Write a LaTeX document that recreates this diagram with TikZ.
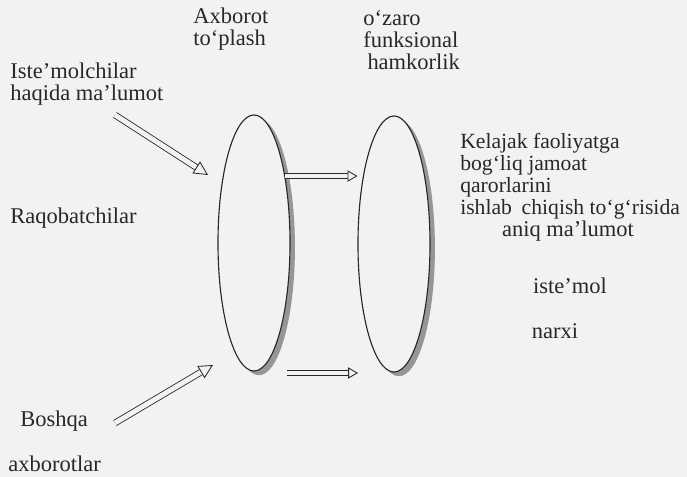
\documentclass[tikz,border=0pt]{standalone}
\usepackage{fontspec}
\setmainfont{Liberation Serif}
\usetikzlibrary{arrows.meta,shapes.geometric,shadows}
\definecolor{paper}{RGB}{242,242,242}
\definecolor{ink}{RGB}{40,40,40}
\definecolor{rim}{RGB}{150,150,150}
\begin{document}
\begin{tikzpicture}[
  x=0.025cm, y=-0.025cm,
  txt/.style={font=\fontsize{16}{15.6}\selectfont, text=ink, align=left, inner sep=0pt},
  lens/.style={ellipse, draw=ink, line width=0.8pt, fill=paper, minimum width=1.8cm, minimum height=6.4cm,
    drop shadow={shadow xshift=3.5pt, shadow yshift=-3pt, fill=rim, opacity=1}},
  arr/.style={draw=ink, line width=0.6pt, double=paper, double distance=3pt,
    -{Triangle[open, fill=paper, line width=0.6pt, length=7pt, width=8pt]}},
  bigarr/.style={arr, double distance=3.5pt,
    -{Triangle[open, fill=paper, line width=0.6pt, length=10pt, width=10pt]}}
]
\useasboundingbox (0,0) rectangle (687,477);
\fill[paper] (0,0) rectangle (687,477);

\node[txt, anchor=west] (consumers) at (10,84) {Iste’molchilar\\haqida ma’lumot};
\node[txt, anchor=west] (rivals) at (10,218) {Raqobatchilar};
\node[txt, anchor=west] (other) at (20,421) {Boshqa};
\node[txt, anchor=west] (otherinfo) at (8,464) {axborotlar};
\node[txt, anchor=west] (collect) at (193,29) {Axborot\\to‘plash};
\node[txt, anchor=west] (interact) at (363,40) {o‘zaro\\funksional\\\hspace{3pt}hamkorlik};
\node[txt, anchor=west, font=\fontsize{15.4}{15.6}\selectfont] (future) at (460,176) {Kelajak faoliyatga\\bog‘liq jamoat\\qarorlarini\\ishlab\hspace{0.45em}chiqish to‘g‘risida};
\node[txt] (exact) at (568,231) {aniq ma’lumot};
\node[txt] (usage) at (570,286) {iste’mol};
\node[txt] (price) at (555,331) {narxi};

\node[lens] (lensA) at (254,243) {};
\node[lens] (lensB) at (394,244) {};

\coordinate (fromConsumers) at (115,115);
\coordinate (toLensA) at (208,175);
\coordinate (fromOther) at (115,423);
\coordinate (toLensALow) at (213,365);
\coordinate (fromLensA) at (287,373);
\coordinate (toLensB) at (358,373);

\draw[bigarr] (fromConsumers) -- (toLensA);
\draw[bigarr] (fromOther) -- (toLensALow);
\draw[arr] (lensA.65) -- (lensA.65 -| lensB.west);
\draw[arr] (fromLensA) -- (toLensB);
\end{tikzpicture}
\end{document}
